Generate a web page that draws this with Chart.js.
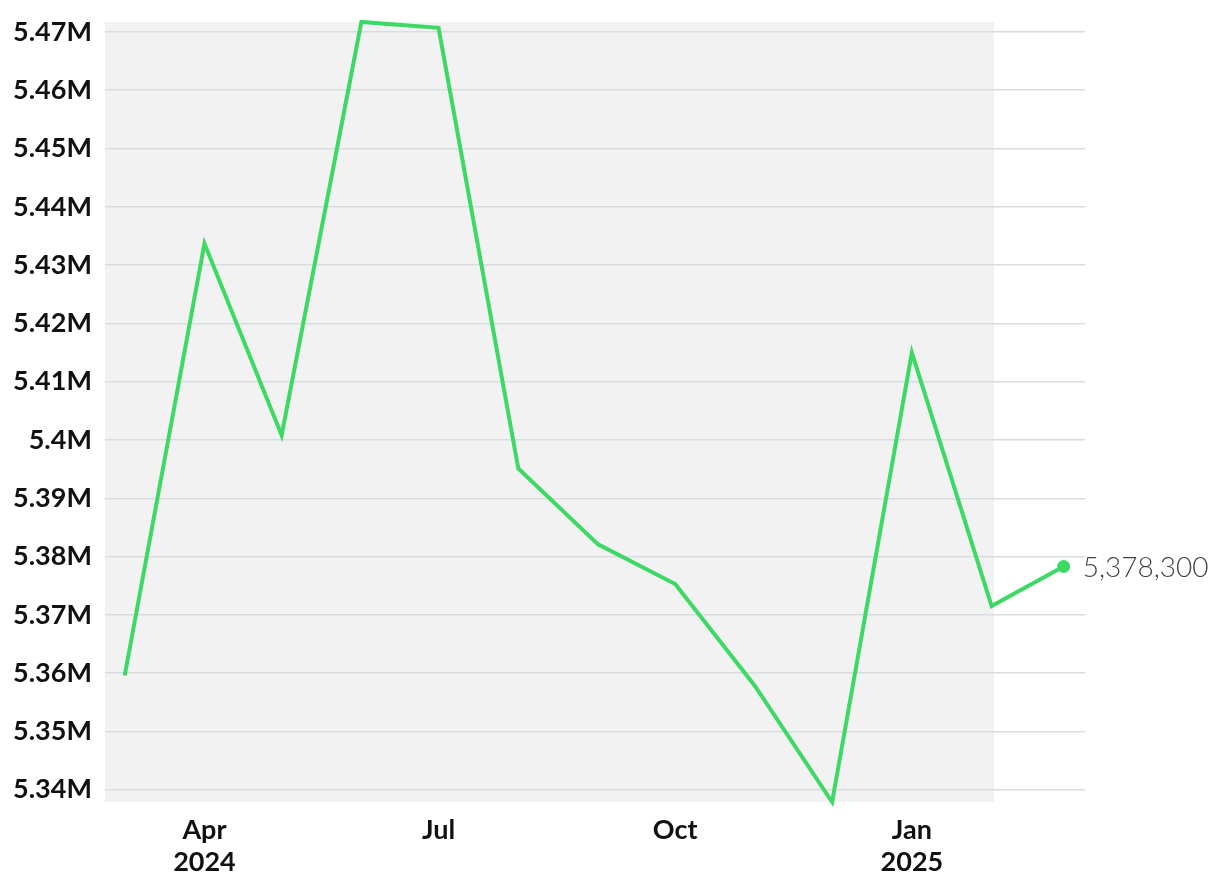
<!DOCTYPE html>
<html>
<head>
<meta charset="utf-8">
<script src="https://cdn.jsdelivr.net/npm/chart.js@4.4.1/dist/chart.umd.min.js"></script>
<style>
html,body{margin:0;padding:0;background:#fff;}
#wrap{width:1220px;height:892px;position:relative;}
</style>
</head>
<body>
<div id="wrap"><canvas id="c" width="1220" height="892"></canvas></div>
<script>
// ---- data ----
const months = ["2024-03","2024-04","2024-05","2024-06","2024-07","2024-08","2024-09","2024-10","2024-11","2024-12","2025-01","2025-02","2025-03"];
const values = [5359600, 5433700, 5400800, 5471700, 5470700, 5395100, 5382100, 5375300, 5357800, 5337900, 5415000, 5371500, 5378300];
const yTicks = [5340000,5350000,5360000,5370000,5380000,5390000,5400000,5410000,5420000,5430000,5440000,5450000,5460000,5470000];
const xTickMonths = ["2024-04","2024-07","2024-10","2025-01"];
const xTickLabels = [["Apr","2024"],["Jul"],["Oct"],["Jan","2025"]];
const shadedUntil = "2025-02-02";

function dayNum(s){ const p=s.split("-").map(Number); return Date.UTC(p[0],p[1]-1,p[2]||1)/86400000; }
const xs = months.map(dayNum);
const points = xs.map((x,i)=>({x:x,y:values[i]}));
const xTickVals = xTickMonths.map(dayNum);

const shadePlugin = {
  id:'shade',
  beforeDraw(chart){
    const {ctx, chartArea, scales} = chart;
    const xe = scales.x.getPixelForValue(dayNum(shadedUntil));
    ctx.save();
    ctx.fillStyle = '#f2f2f2';
    ctx.fillRect(chartArea.left, chartArea.top, xe-chartArea.left, chartArea.bottom-chartArea.top);
    ctx.restore();
  }
};
const endLabelPlugin = {
  id:'endLabel',
  afterDatasetsDraw(chart){
    const meta = chart.getDatasetMeta(0);
    const pt = meta.data[meta.data.length-1];
    const v = values[values.length-1];
    const ctx = chart.ctx;
    ctx.save();
    ctx.font = '300 28px Lato, "Open Sans", sans-serif';
    ctx.fillStyle = '#444444';
    ctx.textBaseline = 'middle';
    ctx.textAlign = 'left';
    ctx.fillText(v.toLocaleString('en-US'), pt.x + 19, pt.y + 1);
    ctx.restore();
  }
};

const tickFont = {family:'Lato, "Open Sans", sans-serif', size:27, weight:'bold', lineHeight:1.2};

new Chart(document.getElementById('c'), {
  type:'line',
  data:{datasets:[{
    data:points,
    borderColor:'#3dd964',
    backgroundColor:'#3dd964',
    borderWidth:4,
    tension:0,
    pointRadius: points.map((p,i)=> i===points.length-1 ? 6.5 : 0),
    pointHoverRadius:0,
    pointBorderWidth:0,
    clip:false
  }]},
  options:{
    responsive:false,
    animation:false,
    events:[],
    layout:{padding:{top:22,right:135,left:0,bottom:0}},
    plugins:{legend:{display:false},tooltip:{enabled:false}},
    scales:{
      x:{
        type:'linear',
        min: xs[0]-7.7,
        max: xs[xs.length-1]+8.3,
        grid:{display:false, drawTicks:false},
        border:{display:false},
        afterBuildTicks(scale){ scale.ticks = xTickVals.map(v=>({value:v})); },
        afterFit(scale){ scale.height = 90; },
        ticks:{
          autoSkip:false, maxRotation:0, padding:12,
          color:'#111', font:tickFont,
          callback(v){ const i = xTickVals.indexOf(v); return i>=0 ? xTickLabels[i] : ''; }
        }
      },
      y:{
        min: Math.min(...values),
        max: Math.max(...values),
        grid:{color:'#d5dde1', lineWidth:1.5, drawTicks:false},
        border:{display:false},
        afterBuildTicks(scale){ scale.ticks = yTicks.map(v=>({value:v})); },
        afterFit(scale){ scale.paddingTop = 0; scale.paddingBottom = 0; },
        ticks:{
          padding:13, color:'#111', font:tickFont,
          callback(v){ return (Math.round(v/10000)/100).toString() + 'M'; }
        }
      }
    }
  },
  plugins:[shadePlugin, endLabelPlugin]
});
</script>
</body>
</html>
